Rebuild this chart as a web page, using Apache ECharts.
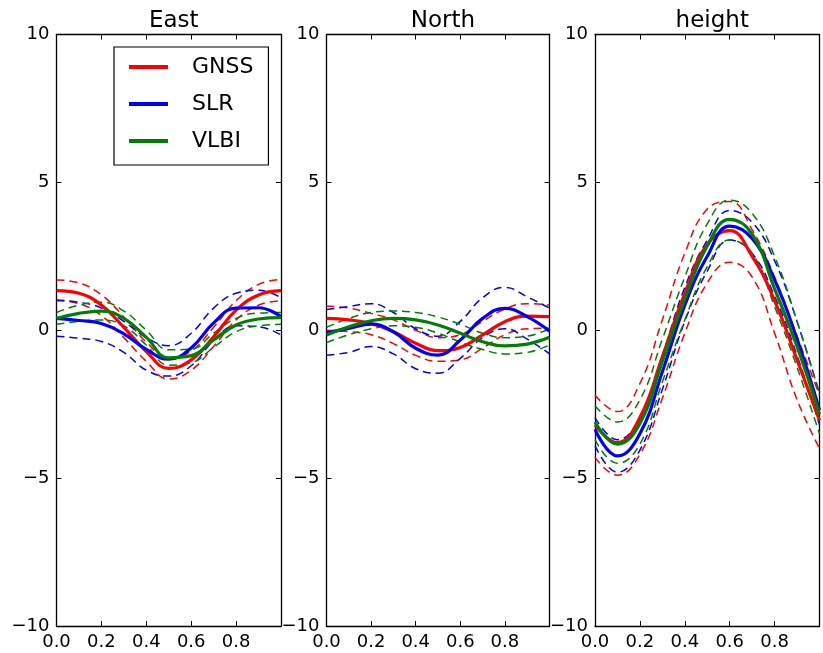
<!DOCTYPE html>
<html><head><meta charset="utf-8">
<script src="https://cdn.jsdelivr.net/npm/echarts/dist/echarts.min.js"></script>
<style>html,body{margin:0;padding:0;background:#fff}#c{width:823px;height:653px}</style>
</head><body><div id="c"></div>
<script>
// ---- data ----
const xs = [0, 0.1, 0.2, 0.3, 0.4, 0.5, 0.6, 0.7, 0.8, 0.9, 1.0];
const panelTitles = ['East', 'North', 'height'];
const seriesNames = ['GNSS', 'SLR', 'VLBI'];
const yTicks = [-10, -5, 0, 5, 10];
const xTicks = [0.0, 0.2, 0.4, 0.6, 0.8];

// East
const eastGNSS      = [1.34, 1.25, 0.85, 0.10, -0.72, -1.29, -1.00, -0.22, 0.68, 1.19, 1.34];
const eastGNSSUp    = [1.70, 1.60, 1.20, 0.45, -0.40, -0.95, -0.70, 0.10, 1.00, 1.55, 1.72];
const eastGNSSLo    = [1.00, 0.90, 0.50, -0.25, -1.05, -1.65, -1.35, -0.55, 0.35, 0.85, 1.00];
const eastSLR       = [0.40, 0.33, 0.23, -0.12, -0.65, -0.98, -0.60, 0.25, 0.75, 0.76, 0.46];
const eastSLRUp     = [1.02, 0.95, 0.75, 0.30, -0.25, -0.52, -0.10, 0.75, 1.25, 1.35, 1.10];
const eastSLRLo     = [-0.20, -0.27, -0.38, -0.75, -1.35, -1.55, -1.20, -0.35, 0.15, 0.12, -0.16];
const eastVLBI      = [0.40, 0.57, 0.65, 0.40, -0.24, -0.93, -0.86, -0.33, 0.18, 0.38, 0.43];
const eastVLBIUp    = [0.60, 0.85, 0.95, 0.65, 0.00, -0.66, -0.64, -0.10, 0.40, 0.58, 0.60];
const eastVLBILo    = [0.20, 0.30, 0.35, 0.15, -0.50, -1.18, -1.10, -0.58, -0.05, 0.15, 0.20];

// North
const northGNSS     = [0.40, 0.35, 0.23, -0.05, -0.44, -0.69, -0.58, -0.16, 0.29, 0.48, 0.46];
const northGNSSUp   = [0.82, 0.75, 0.57, 0.35, 0.00, -0.25, -0.15, 0.30, 0.72, 0.90, 0.85];
const northGNSSLo   = [0.00, -0.05, -0.15, -0.45, -0.85, -1.05, -1.00, -0.60, -0.15, 0.05, 0.07];
const northSLR      = [-0.08, 0.06, 0.21, -0.05, -0.61, -0.84, -0.33, 0.40, 0.74, 0.46, -0.03];
const northSLRUp    = [0.70, 0.80, 0.90, 0.60, 0.05, -0.20, 0.30, 1.10, 1.45, 1.13, 0.75];
const northSLRLo    = [-0.84, -0.75, -0.55, -0.80, -1.30, -1.45, -0.95, -0.25, 0.05, -0.30, -0.80];
const northVLBI     = [-0.16, 0.12, 0.32, 0.40, 0.35, 0.18, -0.10, -0.39, -0.53, -0.47, -0.24];
const northVLBIUp   = [0.10, 0.40, 0.60, 0.65, 0.60, 0.45, 0.20, -0.10, -0.25, -0.20, 0.05];
const northVLBILo   = [-0.42, -0.15, 0.05, 0.15, 0.10, -0.10, -0.40, -0.65, -0.80, -0.75, -0.50];

// height
const heightGNSS    = [-3.20, -3.80, -2.95, -0.90, 1.25, 2.90, 3.37, 2.50, 1.00, -1.00, -3.05];
const heightGNSSUp  = [-2.20, -2.75, -1.80, 0.35, 2.60, 4.10, 4.35, 3.40, 1.80, -0.20, -2.20];
const heightGNSSLo  = [-4.30, -4.90, -4.20, -2.30, -0.10, 1.60, 2.30, 1.80, -0.10, -2.35, -4.00];
const heightSLR     = [-3.35, -4.25, -3.50, -1.40, 0.85, 2.50, 3.52, 3.10, 1.70, -0.30, -2.70];
const heightSLRUp   = [-2.95, -3.70, -2.95, -0.85, 1.45, 3.05, 4.05, 3.65, 2.35, 0.30, -2.15];
const heightSLRLo   = [-3.90, -4.80, -4.05, -2.00, 0.30, 2.00, 3.05, 2.60, 1.15, -0.85, -3.20];
const heightVLBI    = [-3.10, -3.85, -3.15, -1.05, 1.05, 2.85, 3.75, 3.25, 1.40, -0.55, -2.85];
const heightVLBIUp  = [-2.55, -3.10, -2.35, -0.30, 1.80, 3.60, 4.40, 3.95, 2.50, 0.30, -2.15];
const heightVLBILo  = [-3.70, -4.50, -3.85, -1.75, 0.35, 2.15, 3.05, 2.60, 0.80, -1.25, -3.50];

// ---- assembly ----
const panelData = [
  [[eastGNSS, eastGNSSUp, eastGNSSLo], [eastSLR, eastSLRUp, eastSLRLo], [eastVLBI, eastVLBIUp, eastVLBILo]],
  [[northGNSS, northGNSSUp, northGNSSLo], [northSLR, northSLRUp, northSLRLo], [northVLBI, northVLBIUp, northVLBILo]],
  [[heightGNSS, heightGNSSUp, heightGNSSLo], [heightSLR, heightSLRUp, heightSLRLo], [heightVLBI, heightVLBIUp, heightVLBILo]]
];
const colors = ['#ff0000', '#0000ff', '#008000'];
const grids = [
  {left: 56.5, top: 34.5, width: 224.5, height: 591.5},
  {left: 326.5, top: 34.5, width: 223, height: 591.5},
  {left: 595, top: 34.5, width: 224.5, height: 591.5}
];
const FONT = 'DejaVu Sans';
const minus = v => (v < 0 ? '\u2212' + Math.abs(v) : String(v));

const option = {
  animation: false,
  backgroundColor: '#ffffff',
  title: panelTitles.map((t, i) => ({
    text: t,
    left: grids[i].left + grids[i].width / 2,
    top: 5,
    textAlign: 'center',
    textStyle: {fontSize: 23, fontWeight: 'normal', fontFamily: FONT, color: '#000'}
  })),
  legend: {
    data: seriesNames,
    orient: 'vertical',
    left: 114, top: 47,
    padding: [8, 15, 12, 15],
    borderColor: '#000', borderWidth: 1.2,
    backgroundColor: '#fff',
    icon: 'rect', itemWidth: 39, itemHeight: 4,
    itemGap: 13,
    selectedMode: false,
    textStyle: {fontSize: 22, fontFamily: FONT, color: '#000', padding: [0, 0, 0, 19], lineHeight: 24}
  },
  grid: grids.map(g => Object.assign({outerBoundsMode: 'none', containLabel: false}, g)),
  xAxis: [],
  yAxis: [],
  series: []
};

grids.forEach((g, i) => {
  const axisLine = {show: true, onZero: false, lineStyle: {color: '#000', width: 1.3}};
  const tick = {show: true, inside: true, length: 5, lineStyle: {color: '#000', width: 1}};
  option.xAxis.push({
    type: 'value', gridIndex: i, position: 'bottom', min: 0, max: 1, interval: 0.2,
    axisLine, axisTick: tick, splitLine: {show: false},
    axisLabel: {show: true, margin: 7, fontSize: 18, fontFamily: FONT, color: '#000',
      showMaxLabel: false, showMinLabel: true, hideOverlap: false,
      formatter: v => (xTicks.some(t => Math.abs(t - v) < 1e-9) ? v.toFixed(1) : '')}
  });
  option.xAxis.push({
    type: 'value', gridIndex: i, position: 'top', min: 0, max: 1, interval: 0.2,
    axisLine, axisTick: tick, splitLine: {show: false}, axisLabel: {show: false}
  });
  option.yAxis.push({
    type: 'value', gridIndex: i, position: 'left', min: -10, max: 10, interval: 5,
    axisLine, axisTick: tick, splitLine: {show: false},
    axisLabel: {show: true, margin: 7, fontSize: 18, fontFamily: FONT, color: '#000',
      showMaxLabel: true, showMinLabel: true, hideOverlap: false,
      formatter: v => (yTicks.indexOf(v) >= 0 ? minus(v) : '')}
  });
  option.yAxis.push({
    type: 'value', gridIndex: i, position: 'right', min: -10, max: 10, interval: 5,
    axisLine, axisTick: tick, splitLine: {show: false}, axisLabel: {show: false}
  });
  panelData[i].forEach((trip, s) => {
    const [mean, up, lo] = trip;
    [up, lo].forEach((arr, k) => {
      option.series.push({
        type: 'line', name: seriesNames[s] + (k ? ' lower' : ' upper'),
        xAxisIndex: 2 * i, yAxisIndex: 2 * i,
        data: xs.map((x, j) => [x, arr[j]]),
        smooth: 0.45, symbol: 'none', silent: true,
        lineStyle: {color: colors[s], width: 1.5, type: [8, 5]},
        itemStyle: {color: colors[s]}, z: 2
      });
    });
    option.series.push({
      type: 'line', name: seriesNames[s],
      xAxisIndex: 2 * i, yAxisIndex: 2 * i,
      data: xs.map((x, j) => [x, mean[j]]),
      smooth: 0.45, symbol: 'none', silent: true,
      lineStyle: {color: colors[s], width: 3.2},
      itemStyle: {color: colors[s]}, z: 3
    });
  });
});

const chart = echarts.init(document.getElementById('c'), null, {renderer: 'canvas'});
chart.setOption(option);
</script></body></html>
